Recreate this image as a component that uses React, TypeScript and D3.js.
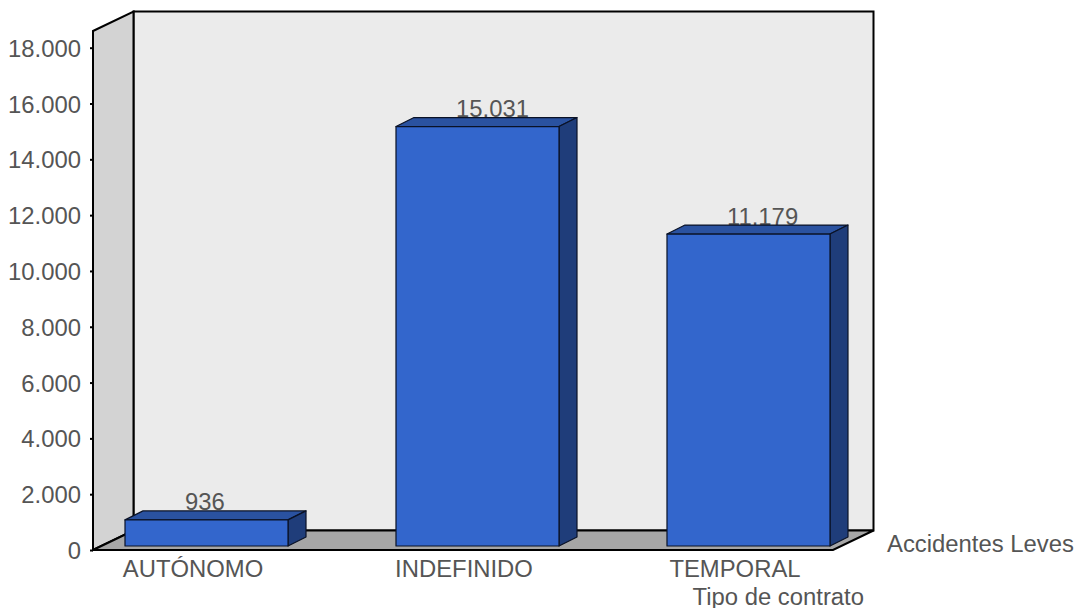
import { useEffect, useRef } from "react";
import * as d3 from "d3";

const categories = ["AUTÓNOMO", "INDEFINIDO", "TEMPORAL"];
const values = [936, 15031, 11179];
const yTicks = [0, 2000, 4000, 6000, 8000, 10000, 12000, 14000, 16000, 18000];
const seriesName = "Accidentes Leves";
const xTitle = "Tipo de contrato";

const fmt = (v: number) => d3.format(",")(v).replace(/,/g, ".");

export default function App() {
  const ref = useRef<SVGSVGElement>(null);

  useEffect(() => {
    if (!ref.current) return;
    const width = 1079;
    const height = 608;
    const textColor = "#555555";
    const font = "'Liberation Sans', Arial, sans-serif";
    const fontSize = 23.85;

    // plot box: front-left corner to back-right corner
    const x0 = 93;
    const x1 = 833;
    const yBase = 550;
    const yTop = 31;
    const depthX = 40.5;
    const depthY = 19.5;
    const barDepthX = 18;
    const barDepthY = 9;
    const barLift = 4;

    const svg = d3.select(ref.current);
    svg.selectAll("*").remove();
    svg.attr("width", width).attr("height", height).attr("viewBox", `0 0 ${width} ${height}`);

    const x = d3
      .scaleBand<string>()
      .domain(categories)
      .range([x0, x1])
      .paddingInner(0.3985)
      .paddingOuter(0.0646)
      .align(0.914);
    const y = d3.scaleLinear().domain([0, 18000]).range([yBase, 47.7]);

    const poly = (pts: [number, number][]) => "M" + pts.join("L") + "Z";

    // walls and floor
    svg
      .append("path")
      .attr("d", poly([[x0 + depthX, yTop - depthY], [x1 + depthX, yTop - depthY], [x1 + depthX, yBase - depthY], [x0 + depthX, yBase - depthY]]))
      .attr("fill", "#ebebeb")
      .attr("stroke", "#000")
      .attr("stroke-width", 2);
    svg
      .append("path")
      .attr("d", poly([[x0, yTop], [x0 + depthX, yTop - depthY], [x0 + depthX, yBase - depthY], [x0, yBase]]))
      .attr("fill", "#d3d3d3")
      .attr("stroke", "#000")
      .attr("stroke-width", 2);
    svg
      .append("path")
      .attr("d", poly([[x0, yBase], [x0 + depthX, yBase - depthY], [x1 + depthX, yBase - depthY], [x1, yBase]]))
      .attr("fill", "#a6a6a6")
      .attr("stroke", "#000")
      .attr("stroke-width", 2);

    // y axis
    const axis = svg
      .append("g")
      .attr("transform", `translate(${x0},0)`)
      .call(d3.axisLeft(y).tickValues(yTicks).tickFormat((d) => fmt(d as number)).tickSize(3).tickPadding(9));
    axis.select(".domain").remove();
    axis.selectAll("line").attr("stroke", "#000").attr("stroke-width", 2);
    axis
      .selectAll("text")
      .attr("fill", textColor)
      .attr("font-family", font)
      .attr("font-size", fontSize)
      .attr("dy", 8.5);

    // value labels sit behind the bars
    svg
      .append("g")
      .selectAll("text")
      .data(values)
      .join("text")
      .attr("x", (_, i) => x(categories[i])! + 60)
      .attr("y", (d) => y(d) - barLift - barDepthY - 0.5)
      .attr("fill", textColor)
      .attr("font-family", font)
      .attr("font-size", fontSize)
      .text((d) => fmt(d));

    // bars
    const bars = svg.append("g").selectAll("g").data(values).join("g");
    bars
      .append("path")
      .attr("d", (d, i) => {
        const l = x(categories[i])!;
        const r = l + x.bandwidth();
        const t = y(d) - barLift;
        return poly([[l, t], [l + barDepthX, t - barDepthY], [r + barDepthX, t - barDepthY], [r, t]]);
      })
      .attr("fill", "#2a52a0");
    bars
      .append("path")
      .attr("d", (d, i) => {
        const r = x(categories[i])! + x.bandwidth();
        const t = y(d) - barLift;
        const b = yBase - barLift;
        return poly([[r, t], [r + barDepthX, t - barDepthY], [r + barDepthX, b - barDepthY], [r, b]]);
      })
      .attr("fill", "#1f3d7a");
    bars
      .append("rect")
      .attr("x", (_, i) => x(categories[i])!)
      .attr("y", (d) => y(d) - barLift)
      .attr("width", x.bandwidth())
      .attr("height", (d) => yBase - y(d))
      .attr("fill", "#3366cc");
    bars
      .selectAll("path, rect")
      .attr("stroke", "#0a1226")
      .attr("stroke-width", 1.2)
      .attr("stroke-linejoin", "round");

    // category labels
    svg
      .append("g")
      .selectAll("text")
      .data(categories)
      .join("text")
      .attr("x", (d) => x(d)! + x.bandwidth() / 2 - 13.5)
      .attr("y", 577)
      .attr("text-anchor", "middle")
      .attr("fill", textColor)
      .attr("font-family", font)
      .attr("font-size", fontSize)
      .text((d) => d);

    svg
      .append("text")
      .attr("x", 864)
      .attr("y", 605)
      .attr("text-anchor", "end")
      .attr("fill", textColor)
      .attr("font-family", font)
      .attr("font-size", fontSize)
      .text(xTitle);

    svg
      .append("text")
      .attr("x", 887)
      .attr("y", 552)
      .attr("fill", textColor)
      .attr("font-family", font)
      .attr("font-size", fontSize)
      .text(seriesName);
  }, []);

  return <svg ref={ref} style={{ position: "absolute", left: 0, top: 0 }} />;
}
